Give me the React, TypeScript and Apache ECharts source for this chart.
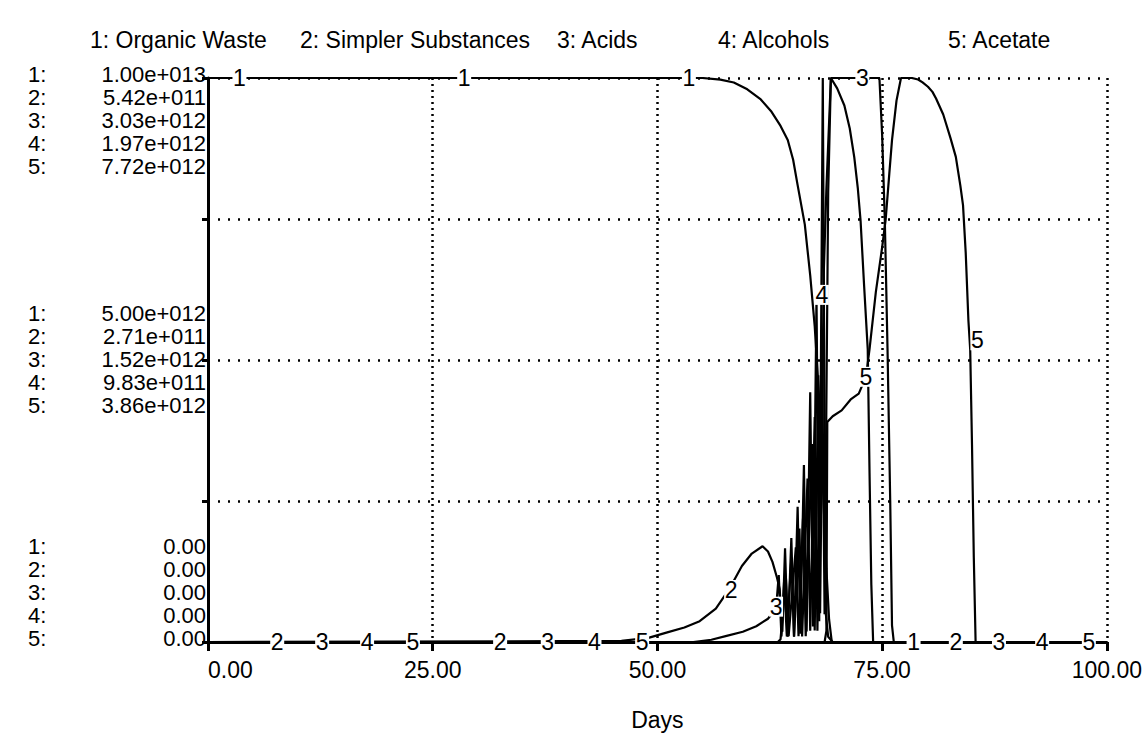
import React, { useEffect, useRef } from 'react';
import * as echarts from 'echarts';

const FONT = '"Liberation Sans", Arial, sans-serif';

// Series names (legend order)
const seriesNames = ['Organic Waste', 'Simpler Substances', 'Acids', 'Alcohols', 'Acetate'];
// Scale maximum of each series, in units of 1e12
const scaleMax = [10, 0.542, 3.034, 1.966, 7.72];
// X axis
const xMin = 0;
const xMax = 100;
const xInterval = 25;

// Data: [day, value in 1e12 units]
const organicWaste = [
  [0, 10], [55, 10], [57, 9.97], [58.5, 9.92], [60, 9.8], [61.5, 9.62], [62.7, 9.4], [63.7, 9.15],
  [64.5, 8.9], [65.1, 8.55], [65.6, 8.1], [66.0, 7.75], [66.4, 7.4], [66.7, 6.95], [67.0, 6.5],
  [67.5, 5.6], [68.0, 4.3], [68.4, 2.8], [68.8, 1.3], [69.1, 0.4], [69.4, 0], [100, 0],
];
const simplerSubstances = [
  [0, 0], [46, 0.001], [49, 0.004], [51, 0.009], [53, 0.014], [54.7, 0.02], [56.5, 0.032], [58, 0.051],
  [59.4, 0.073], [60.5, 0.085], [61.7, 0.092], [62.3, 0.087], [62.8, 0.077], [63.3, 0.062], [63.6, 0.051],
  [63.9, 0.01], [64.2, 0.09], [64.5, 0.005], [64.9, 0.1], [65.2, 0.005], [65.6, 0.13], [65.9, 0.008],
  [66.3, 0.17], [66.6, 0.01], [67.0, 0.24], [67.3, 0.015], [67.7, 0.33], [68.0, 0.02], [68.4, 0.542],
  [68.7, 0.03], [69.0, 0.005], [69.5, 0], [100, 0],
];
const acids = [
  [0, 0], [54, 0], [56, 0.012], [57.7, 0.033], [59.5, 0.055], [61, 0.085], [62.3, 0.125], [63.2, 0.18],
  [63.5, 0.36], [63.8, 0.03], [64.1, 0.33], [64.4, 0.03], [64.9, 0.45], [65.2, 0.03], [65.8, 0.61],
  [66.1, 0.03], [66.7, 0.88], [67.0, 0.06], [67.5, 1.21], [67.8, 0.06], [68.3, 1.67], [68.6, 0.15],
  [69.0, 2.42], [69.3, 3.034], [74.7, 3.034], [75.0, 2.73], [75.3, 2.27], [75.6, 1.58], [75.9, 0.76],
  [76.1, 0.09], [76.3, 0], [100, 0],
];
const alcohols = [
  [0, 0], [63.4, 0], [63.7, 0.01], [64.3, 0.22], [64.6, 0.02], [65.4, 0.33], [65.7, 0.02], [66.2, 0.43],
  [66.5, 0.02], [67.2, 0.69], [67.5, 0.04], [67.9, 0.93], [68.1, 0.1], [68.5, 1.28], [68.8, 1.58],
  [69.3, 1.966], [70, 1.93], [70.8, 1.87], [71.4, 1.79], [71.9, 1.69], [72.3, 1.58], [72.6, 1.47],
  [73.0, 1.24], [73.4, 1.02], [73.6, 0.59], [73.8, 0.2], [74.0, 0], [100, 0],
];
const acetate = [
  [0, 0], [68.6, 0], [68.8, 0.15], [68.9, 3.01], [69.5, 3.09], [70.5, 3.17], [71.5, 3.32], [72.4, 3.4],
  [73.2, 3.63], [73.6, 4.01], [74.3, 4.79], [75.0, 5.4], [75.4, 5.79], [75.8, 6.41], [76.1, 6.87],
  [76.6, 7.41], [77.1, 7.72], [78.3, 7.72], [79.0, 7.7], [79.5, 7.66], [80.1, 7.6], [80.6, 7.53],
  [81.0, 7.44], [81.4, 7.33], [81.8, 7.22], [82.1, 7.1], [82.6, 6.9], [83.2, 6.64], [83.7, 6.25],
  [84.0, 5.98], [84.3, 5.33], [84.6, 4.4], [84.8, 4.0], [85.0, 2.7], [85.2, 1.16], [85.4, 0], [100, 0],
];
const seriesData = [organicWaste, simplerSubstances, acids, alcohols, acetate];

// Curve number markers: [day, value]
const markers1 = [[3.5, 10], [28.5, 10], [53.5, 10], [78.5, 0]];
const markers2 = [[7.7, 0], [32.5, 0], [58.2, 0.05], [83.2, 0]];
const markers3 = [[12.7, 0], [37.8, 0], [63.2, 0.19], [72.8, 3.034], [88, 0]];
const markers4 = [[17.7, 0], [43, 0], [68.3, 1.21], [92.8, 0]];
const markers5 = [[22.8, 0], [48.3, 0], [73.2, 3.63], [85.6, 4.13], [98, 0]];
const markerSets = [markers1, markers2, markers3, markers4, markers5];

// Layout (not data)
const legendLeft = [85, 295, 552, 713, 943];

function fmtSci(v: number): string {
  if (v === 0) return '0.00';
  const s = (v * 1e12).toExponential(2);
  return s.replace(/e([+-])(\d+)/, (_m, sign, d) => 'e' + sign + d.padStart(3, '0'));
}

export default function App() {
  const ref = useRef<HTMLDivElement>(null);
  useEffect(() => {
    if (!ref.current) return;
    const chart = echarts.init(ref.current, undefined, { renderer: 'svg' });
    const yAxes: any[] = scaleMax.map((m, i) =>
      i === 0
        ? {
            type: 'value', min: 0, max: m, interval: m / 4, position: 'left',
            axisLine: { show: true, onZero: false, lineStyle: { color: '#000', width: 3 } },
            axisTick: { show: true, length: 6, lineStyle: { color: '#000', width: 3 } },
            axisLabel: { show: false },
            splitLine: { show: true, lineStyle: { color: '#000', type: [2, 8], width: 2.5 } },
          }
        : { type: 'value', min: 0, max: m, show: false, splitLine: { show: false } }
    );
    const option: any = {
      animation: false,
      backgroundColor: '#fff',
      grid: { left: 208, right: 35, top: 78, bottom: 105, containLabel: false },
      legend: seriesNames.map((n, i) => ({
        data: [n],
        left: legendLeft[i] - 5,
        top: 23,
        icon: 'none',
        itemWidth: 0,
        selectedMode: false,
        formatter: `${i + 1}: ${n}`,
        textStyle: { fontSize: 23, color: '#000', fontFamily: FONT },
      })),
      xAxis: {
        type: 'value', min: xMin, max: xMax, interval: xInterval,
        axisLine: { show: true, onZero: false, lineStyle: { color: '#000', width: 3 } },
        axisTick: { show: true, length: 9, lineStyle: { color: '#000', width: 3 } },
        axisLabel: {
          formatter: (v: number) => v.toFixed(2), color: '#000', fontSize: 23, fontFamily: FONT, margin: 16,
          alignMinLabel: 'left',
        },
        splitLine: { show: true, lineStyle: { color: '#000', type: [2, 4], width: 2.5 } },
        name: 'Days', nameLocation: 'middle', nameGap: 66,
        nameTextStyle: { color: '#000', fontSize: 23, fontFamily: FONT },
      },
      yAxis: yAxes,
      series: seriesData.map((d, i) => ({
        name: seriesNames[i],
        type: 'line',
        yAxisIndex: i,
        data: d,
        showSymbol: false,
        symbol: 'none',
        lineStyle: { color: '#000', width: 2.2 },
        itemStyle: { color: '#000' },
        markPoint: {
          symbol: 'rect',
          symbolSize: [14, 20],
          itemStyle: { color: '#fff' },
          label: { show: true, position: 'inside', color: '#000', fontSize: 23, fontFamily: FONT, formatter: String(i + 1) },
          data: markerSets[i].map((c) => ({ coord: c })),
        },
      })),
    };
    chart.setOption(option);

    const LH = 23;
    const yTop = chart.convertToPixel({ yAxisIndex: 0 }, scaleMax[0]) as number;
    const yMid = chart.convertToPixel({ yAxisIndex: 0 }, scaleMax[0] / 2) as number;
    const yBot = chart.convertToPixel({ yAxisIndex: 0 }, 0) as number;
    const xAx = chart.convertToPixel({ xAxisIndex: 0 }, 0) as number;
    const blocks = [
      { vals: scaleMax.map((m) => fmtSci(m)), y0: yTop - 4 },
      { vals: scaleMax.map((m) => fmtSci(m / 2)), y0: yMid - 1 - 2 * LH },
      { vals: scaleMax.map(() => fmtSci(0)), y0: yBot - 4 - 4 * LH },
    ];
    const graphic: any[] = [];
    blocks.forEach((b) => {
      b.vals.forEach((v, i) => {
        const y = b.y0 + i * LH;
        graphic.push({
          type: 'text', x: 28, y,
          style: { text: `${i + 1}:`, font: `22px ${FONT}`, fill: '#000', align: 'left', verticalAlign: 'middle' },
        });
        graphic.push({
          type: 'text', x: xAx - 2, y,
          style: { text: v, font: `22px ${FONT}`, fill: '#000', align: 'right', verticalAlign: 'middle' },
        });
      });
    });
    chart.setOption({ graphic });
    return () => chart.dispose();
  }, []);
  return <div ref={ref} style={{ position: 'fixed', left: 0, top: 0, width: 1145, height: 747 }} />;
}
